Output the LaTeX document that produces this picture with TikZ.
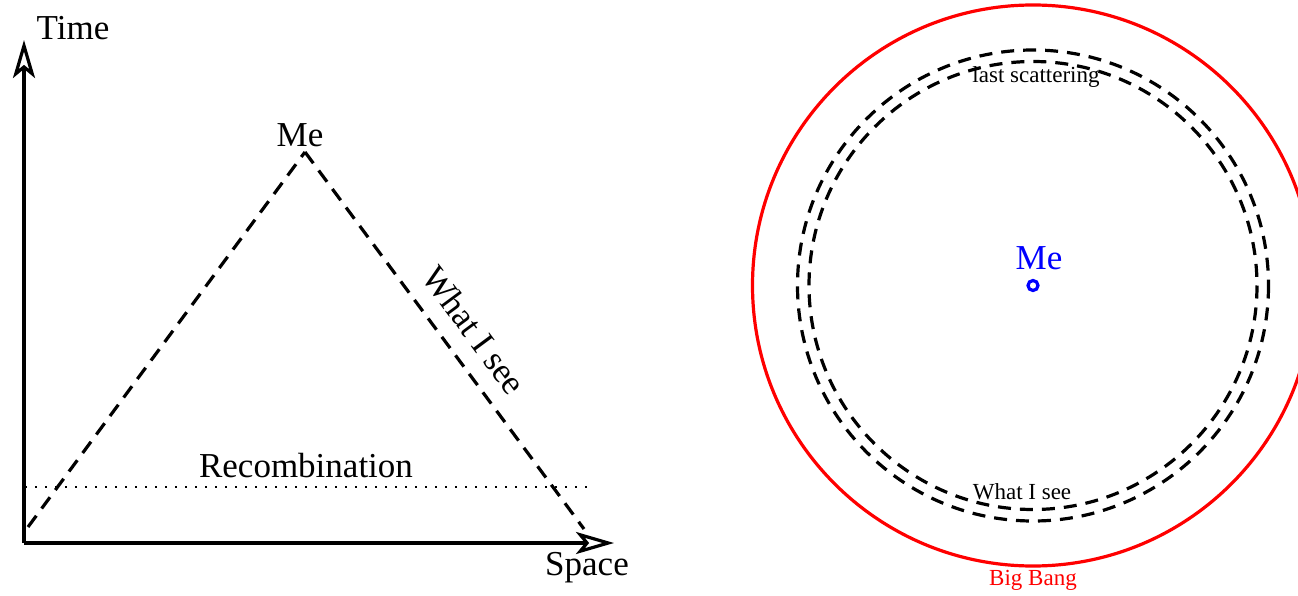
\documentclass[tikz,border=0pt]{standalone}
\usepackage{fontspec}
\setmainfont{Liberation Serif}
\usetikzlibrary{arrows.meta,positioning}

\begin{document}
\begin{tikzpicture}[
    x=1pt, y=-1pt,
    axis/.style={line width=3.2pt, -{Stealth[open, length=38pt, width=22pt, inset=9pt]}},
    cone/.style={line width=3.2pt, dash pattern=on 14pt off 9pt},
    ring/.style={line width=3.2pt, dash pattern=on 13pt off 9pt},
    big/.style={font=\fontsize{35}{40}\selectfont, inner sep=0pt},
    small/.style={font=\fontsize{23}{27}\selectfont, inner sep=0pt}
  ]
  \useasboundingbox (0,0) rectangle (1298,596);

  % spacetime diagram
  \coordinate (o) at (24,543);
  \coordinate (ttop) at (24,40);
  \coordinate (sright) at (614,543);
  \draw[axis] (o) -- (ttop);
  \draw[axis] (o) -- (sright);
  \node[big] (time) at (73,28) {Time};
  \node[big] (space) at (587,568) {Space};

  \coordinate (apex) at (305,152);
  \coordinate (bl) at (28,527);
  \coordinate (br) at (584,529);
  \node[big] (me) at (300,135) {Me};
  \draw[cone] (bl) -- (apex);
  \draw[cone] (apex) -- (br)
    node[big, pos=0.52, sloped, above=16pt] (see) {What I see};

  \coordinate (rl) at (25,487);
  \coordinate (rr) at (593,487);
  \draw[line width=2.2pt, dash pattern=on 2pt off 8pt] (rl) -- (rr);
  \node[big] (recomb) at (306,466) {Recombination};

  % sky as seen from here
  \coordinate (c) at (1033,285.5);
  \draw[red, line width=3.2pt] (c) circle[radius=280.5];
  \draw[ring] (c) circle[radius=235.5];
  \draw[ring] (c) circle[radius=224];
  \draw[blue, line width=3.2pt] (c) circle[radius=5];
  \node[big, blue] (me2) at (1039,258) {Me};
  \node[small] (ls) at (1036,77) {last scattering};
  \node[small] (wis) at (1022,492) {What I see};
  \node[small, red] (bb) at (1033,580) {Big Bang};
\end{tikzpicture}
\end{document}
